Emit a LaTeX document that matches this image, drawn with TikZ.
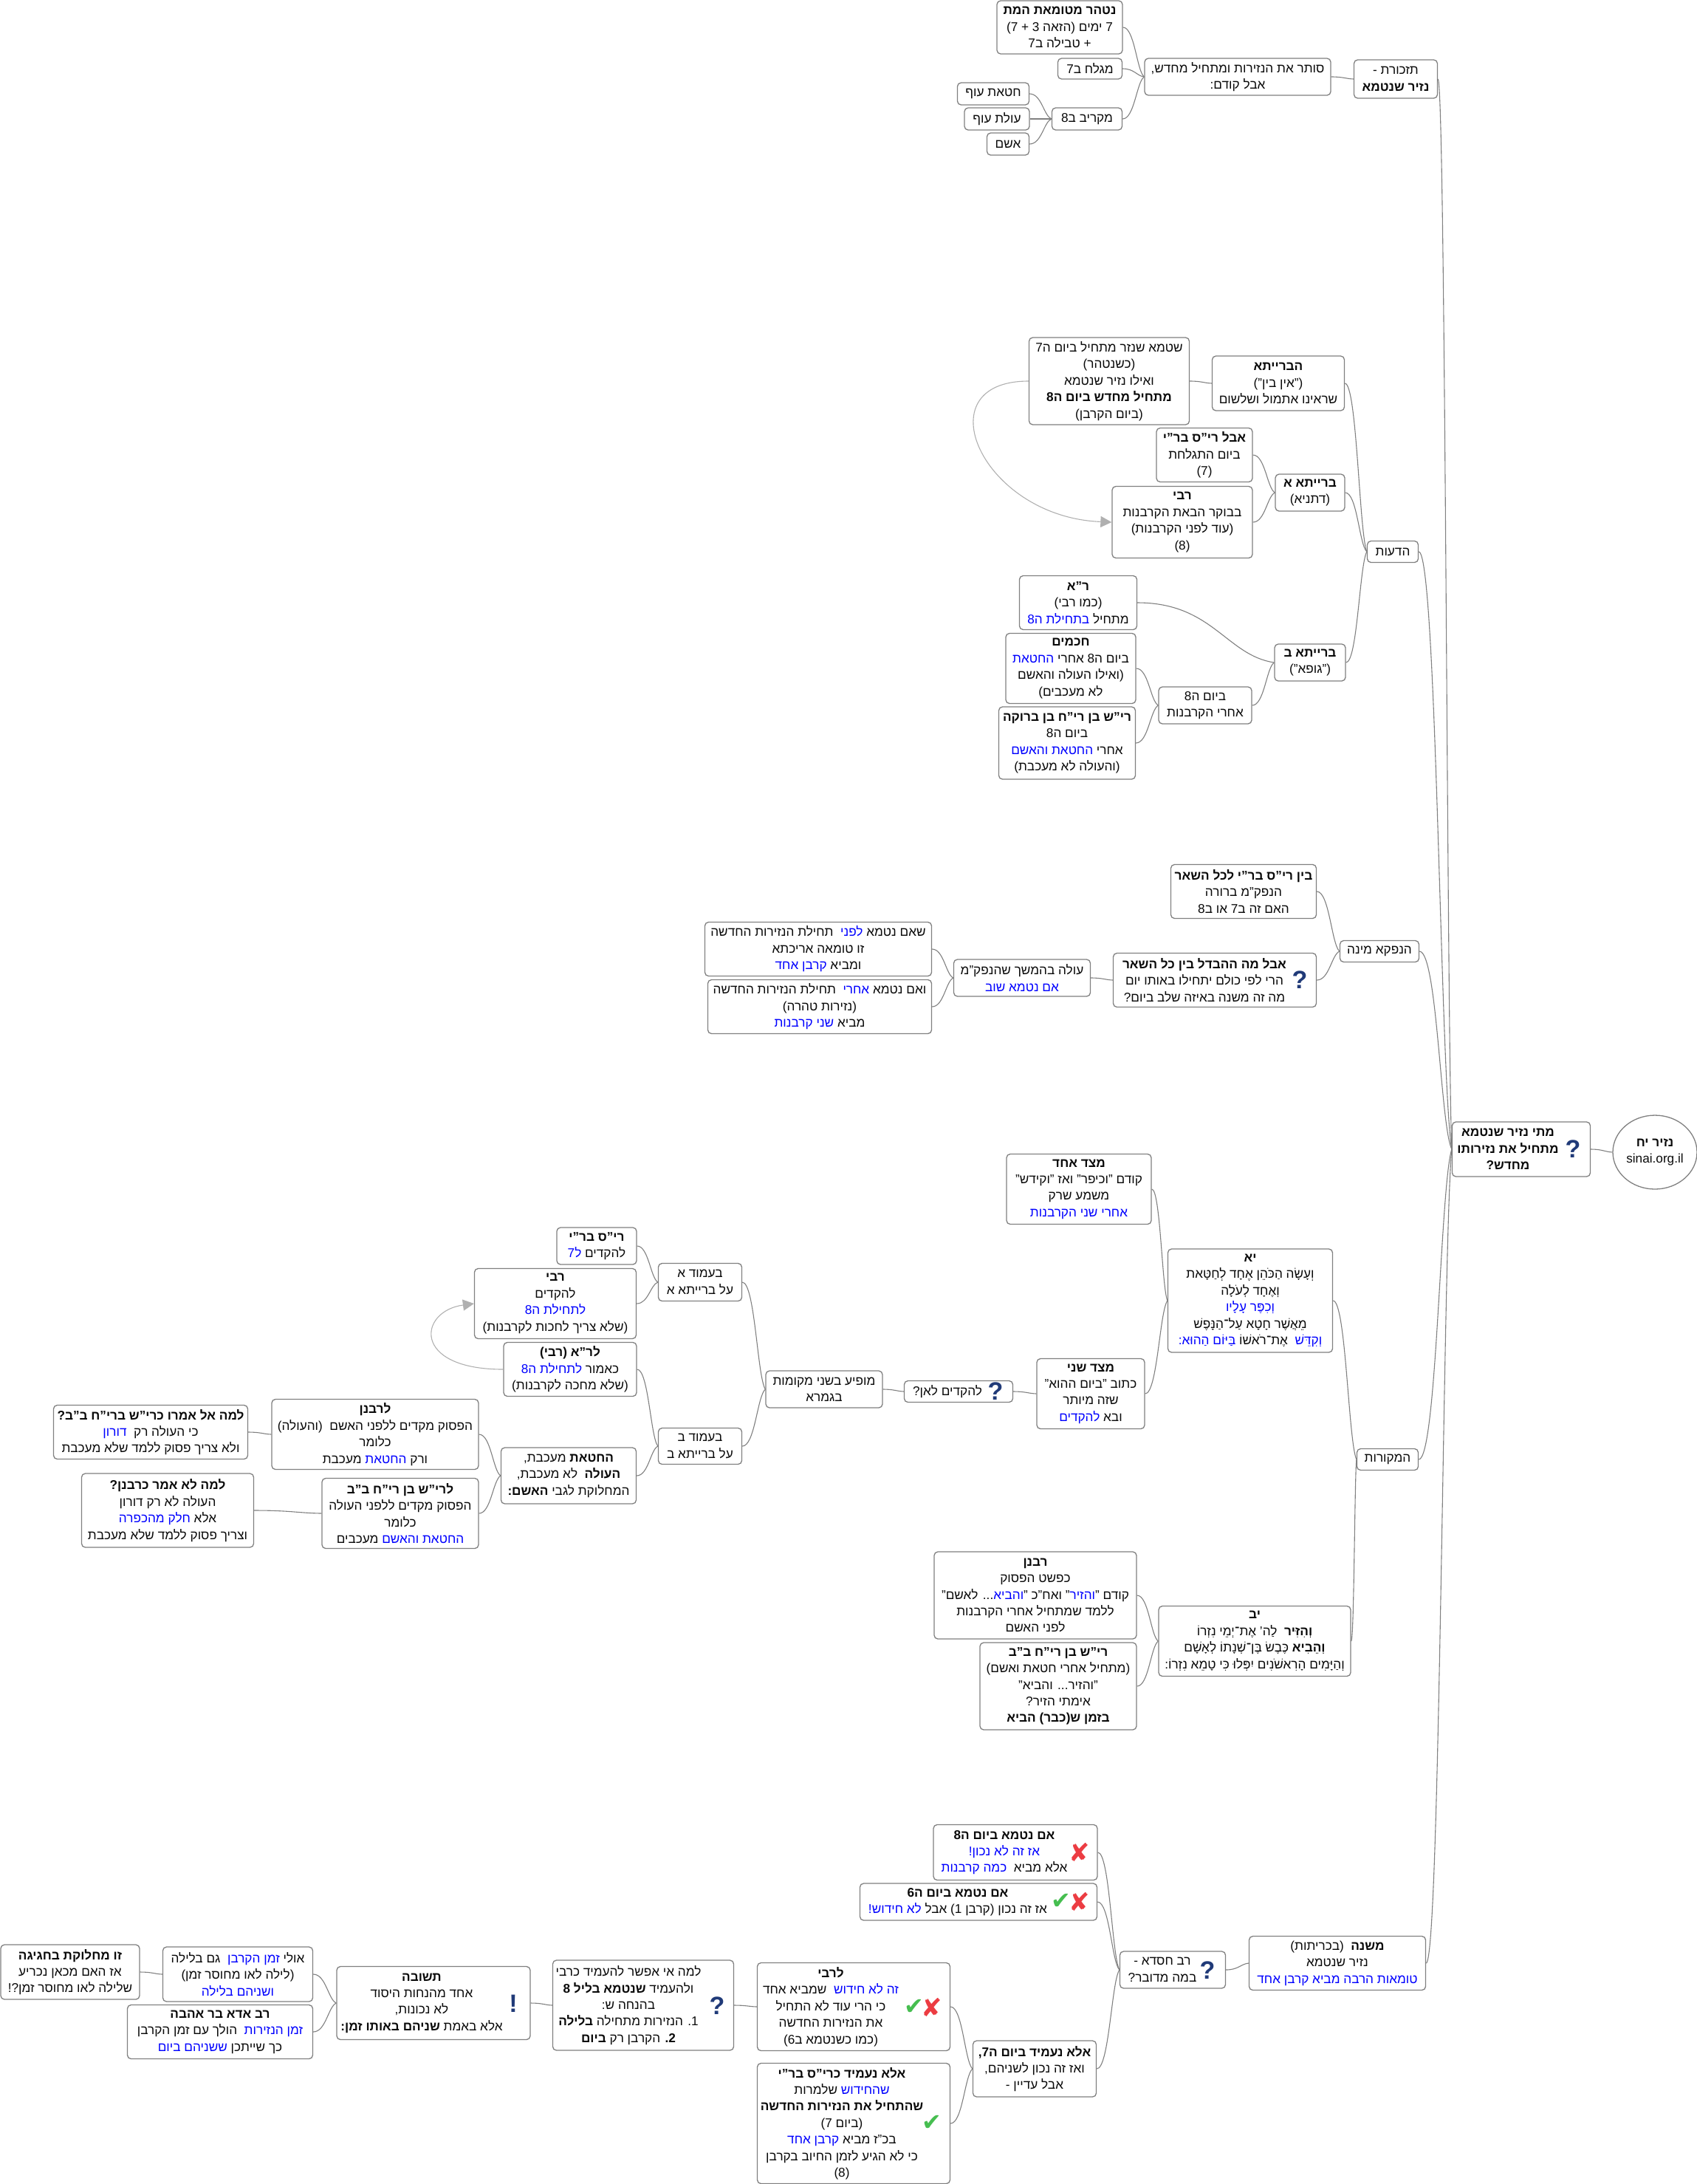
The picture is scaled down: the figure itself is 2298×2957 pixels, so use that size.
\documentclass[tikz,border=0pt]{standalone}
\usepackage{fontspec}
\setmainfont[Script=Hebrew]{Liberation Sans}
\newfontfamily\symfont{DejaVu Sans}
\usepackage{xcolor}
\definecolor{mapBlue}{RGB}{0, 0, 255}
\definecolor{mapEdge}{RGB}{128, 128, 128}
\definecolor{mapText}{RGB}{10, 10, 10}
\definecolor{mapCross}{RGB}{176, 176, 176}
\definecolor{iconNavy}{RGB}{32, 58, 120}
\definecolor{iconRed}{RGB}{236, 60, 66}
\definecolor{iconGreen}{RGB}{70, 190, 80}
\usetikzlibrary{shapes.geometric,arrows.meta,calc}
\TeXXeTstate=1
\newlength{\linePad}
\newcommand{\rl}[1]{\beginR #1\endR\kern\linePad}
\newcommand{\bl}[1]{\beginL\textcolor{mapBlue}{\beginR #1\endR}\endL}

\begin{document}
\begin{tikzpicture}[
    x=0.5pt, y=-0.5pt,
    mapNode/.style={
        rectangle, rounded corners=2.5pt,
        draw=mapEdge, line width=0.65pt,
        fill=white, text=mapText,
        font=\fontsize{8.6}{11.2}\selectfont, align=center,
        inner sep=0pt, execute at begin node={\setlength{\linePad}{0pt}}
    },
    sized/.style 2 args={minimum width=#1*0.5pt, minimum height=#2*0.5pt},
    iconPad/.style={execute at begin node={\setlength{\linePad}{#1}}},
    rootNode/.style={
        ellipse, draw=mapEdge, line width=0.65pt, fill=white, text=mapText,
        font=\fontsize{8.6}{11.2}\selectfont, align=center, inner sep=0pt,
        minimum width=57pt, minimum height=50pt
    },
    iconAsk/.style={font=\fontsize{17}{17}\selectfont\bfseries, text=iconNavy, inner sep=0pt},
    iconNo/.style={font=\symfont\fontsize{17}{17}\selectfont, text=iconRed, inner sep=0pt},
    iconYes/.style={font=\symfont\fontsize{16}{16}\selectfont, text=iconGreen, inner sep=0pt},
    branch/.style={
        draw=mapEdge, line width=0.55pt,
        to path={let \p1=(\tikztostart), \p2=(\tikztotarget), \n1={0.55*(\x2-\x1)}, \n2={0.35*(\x2-\x1)}, \n3={0.12*(\y2-\y1)} in
            .. controls ($(\p1)+(\n1,0)$) and ($(\p2)-(\n2,\n3)$) .. (\p2)}
    },
    crossLink/.style={
        -{Triangle[length=7.5pt,width=7.5pt]}, draw=mapCross, line width=0.55pt
    }
]
    \useasboundingbox (0,0) rectangle (2298,2957);

    % Root
    \node[rootNode] (source) at (2241,1560) {\rl{\textbf{נזיר יח}}\\sinai.org.il};
    \node[mapNode, sized={187}{74}, iconPad=18pt] (mainQ) at (2060,1556) {
        \rl{\textbf{מתי נזיר שנטמא}}\\
        \rl{\textbf{מתחיל את נזירותו}}\\
        \rl{\textbf{מחדש?}}
    };

    % First level
    \node[mapNode, sized={113}{52}] (tizkoret) at (1890,107) {\rl{תזכורת -}\\\rl{\textbf{נזיר שנטמא}}};
    \node[mapNode, sized={69}{29}] (hadeot) at (1886,747) {\rl{הדעות}};
    \node[mapNode, sized={107}{29}] (hanafka) at (1868,1288) {\rl{הנפקא מינה}};
    \node[mapNode, sized={83}{29}] (mekorot) at (1879,1976) {\rl{המקורות}};
    \node[mapNode, sized={239}{73}] (mishna) at (1811,2658) {
        \rl{\textbf{משנה}\ \ (בכריתות)}\\
        \rl{נזיר שנטמא}\\
        \rl{\bl{טומאות הרבה מביא קרבן אחד}}
    };

    % Reminder
    \node[mapNode, sized={252}{50}] (soter) at (1676,104) {\rl{סותר את הנזירות ומתחיל מחדש,}\\\rl{אבל קודם:}};
    \node[mapNode, sized={170}{72}] (nitahar) at (1435,37) {
        \rl{\textbf{נטהר מטומאת המת}}\\
        \rl{7 ימים (הזאה 3 + 7)}\\
        \rl{+ טבילה ב7}
    };
    \node[mapNode, sized={87}{28}] (magalah) at (1476,93) {\rl{מגלח ב7}};
    \node[mapNode, sized={95}{30}] (makriv) at (1472,161) {\rl{מקריב ב8}};
    \node[mapNode, sized={97}{30}] (chatatOf) at (1345,127) {\rl{חטאת עוף}};
    \node[mapNode, sized={88}{30}] (olatOf) at (1350,161) {\rl{עולת עוף}};
    \node[mapNode, sized={57}{30}] (asham) at (1365,195) {\rl{אשם}};

    % Opinions
    \node[mapNode, sized={179}{74}] (beraita) at (1731,519) {
        \rl{\textbf{הברייתא}}\\
        \rl{("אין בין")}\\
        \rl{שראינו אתמול ושלשום}
    };
    \node[mapNode, sized={217}{118}] (shetame) at (1502,516) {
        \rl{שטמא שנזר מתחיל ביום ה7}\\
        \rl{(כשנטהר)}\\
        \rl{ואילו נזיר שנטמא}\\
        \rl{\textbf{מתחיל מחדש ביום ה8}}\\
        \rl{(ביום הקרבן)}
    };
    \node[mapNode, sized={94}{50}] (beraitaA) at (1774,667) {\rl{\textbf{ברייתא א}}\\\rl{(דתניא)}};
    \node[mapNode, sized={130}{73}] (avalRis) at (1631,616) {
        \rl{\textbf{אבל רי"ס בר"י}}\\
        \rl{ביום התגלחת}\\
        \rl{(7)}
    };
    \node[mapNode, sized={190}{97}] (rabiBoker) at (1601,707) {
        \rl{\textbf{רבי}}\\
        \rl{בבוקר הבאת הקרבנות}\\
        \rl{(עוד לפני הקרבנות)}\\
        \rl{(8)}
    };
    \node[mapNode, sized={96}{50}] (beraitaB) at (1774,897) {\rl{\textbf{ברייתא ב}}\\\rl{("גופא")}};
    \node[mapNode, sized={159}{73}] (rabiA) at (1460,816) {
        \rl{\textbf{ר"א}}\\
        \rl{(כמו רבי)}\\
        \rl{מתחיל \bl{בתחילת ה8}}
    };
    \node[mapNode, sized={126}{50}] (yomShmini) at (1632,955) {\rl{ביום ה8}\\\rl{אחרי הקרבנות}};
    \node[mapNode, sized={176}{95}] (chachamim) at (1450,905) {
        \rl{\textbf{חכמים}}\\
        \rl{ביום ה8 אחרי \bl{החטאת}}\\
        \rl{(ואילו העולה והאשם}\\
        \rl{לא מעכבים)}
    };
    \node[mapNode, sized={185}{98}] (rish) at (1445,1006) {
        \rl{\textbf{רי"ש בן רי"ח בן ברוקה}}\\
        \rl{ביום ה8}\\
        \rl{אחרי \bl{החטאת והאשם}}\\
        \rl{(והעולה לא מעכבת)}
    };

    % Practical difference
    \node[mapNode, sized={197}{73}] (bein) at (1684,1207) {
        \rl{\textbf{בין רי"ס בר"י לכל השאר}}\\
        \rl{הנפק"מ ברורה}\\
        \rl{האם זה ב7 או ב8}
    };
    \node[mapNode, sized={275}{73}, iconPad=14pt] (avalMa) at (1645,1327) {
        \rl{\textbf{אבל מה ההבדל בין כל השאר}}\\
        \rl{הרי לפי כולם יתחילו באותו יום}\\
        \rl{מה זה משנה באיזה שלב ביום?}
    };
    \node[mapNode, sized={185}{50}] (olaNafka) at (1384,1324) {\rl{עולה בהמשך שהנפק"מ}\\\rl{\bl{אם נטמא שוב}}};
    \node[mapNode, sized={307}{73}] (imLifnei) at (1108,1285) {
        \rl{שאם נטמא \bl{לפני}\ \ תחילת הנזירות החדשה}\\
        \rl{זו טומאה אריכתא}\\
        \rl{ומביא \bl{קרבן אחד}}
    };
    \node[mapNode, sized={303}{73}] (imAcharei) at (1110,1363) {
        \rl{ואם נטמא \bl{אחרי}\ \ תחילת הנזירות החדשה}\\
        \rl{(נזירות טהרה)}\\
        \rl{מביא \bl{שני קרבנות}}
    };

    % Verses
    \node[mapNode, sized={223}{140}] (verseYa) at (1693,1761) {
        \rl{\textbf{יא}}\\
        \rl{וְעָשָׂה הַכֹּהֵן אֶחָד לְחַטָּאת}\\
        \rl{וְאֶחָד לְעֹלָה}\\
        \rl{\bl{וְכִפֶּר עָלָיו}}\\
        \rl{מֵאֲשֶׁר חָטָא עַל־הַנָּפֶשׁ}\\
        \rl{\bl{וְקִדֵּשׁ}\ \ אֶת־רֹאשׁוֹ \bl{בַּיּוֹם הַהוּא:}}
    };
    \node[mapNode, sized={196}{95}] (mitzadA) at (1461,1610) {
        \rl{\textbf{מצד אחד}}\\
        \rl{קודם "וכיפר" ואז "וקידש"}\\
        \rl{משמע שרק}\\
        \rl{\bl{אחרי שני הקרבנות}}
    };
    \node[mapNode, sized={146}{95}] (mitzadB) at (1477,1887) {
        \rl{\textbf{מצד שני}}\\
        \rl{כתוב "ביום ההוא"}\\
        \rl{שזה מיותר}\\
        \rl{ובא \bl{להקדים}}
    };
    \node[mapNode, sized={147}{29}, iconPad=15pt] (lehakdim) at (1298,1884) {\rl{להקדים לאן?}};
    \node[mapNode, sized={158}{50}] (mofia) at (1116,1881) {\rl{מופיע בשני מקומות}\\\rl{בגמרא}};
    \node[mapNode, sized={113}{51}] (amudA) at (948,1736) {\rl{בעמוד א}\\\rl{על ברייתא א}};
    \node[mapNode, sized={113}{49}] (amudB) at (948,1958) {\rl{בעמוד ב}\\\rl{על ברייתא ב}};
    \node[mapNode, sized={108}{50}] (risBari) at (808,1687) {\rl{\textbf{רי"ס בר"י}}\\\rl{להקדים \bl{ל7}}};
    \node[mapNode, sized={219}{95}] (rabiMakdim) at (752,1765) {
        \rl{\textbf{רבי}}\\
        \rl{להקדים}\\
        \rl{\bl{לתחילת ה8}}\\
        \rl{(שלא צריך לחכות לקרבנות)}
    };
    \node[mapNode, sized={180}{73}] (leRa) at (772,1854) {
        \rl{\textbf{לר"א (רבי)}}\\
        \rl{כאמור \bl{לתחילת ה8}}\\
        \rl{(שלא מחכה לקרבנות)}
    };
    \node[mapNode, sized={183}{76}] (chatatMeakev) at (770,1998) {
        \rl{\textbf{החטאת} מעכבת,}\\
        \rl{\textbf{העולה}\ \ לא מעכבת,}\\
        \rl{המחלוקת לגבי \textbf{האשם:}}
    };
    \node[mapNode, sized={280}{95}] (leRabanan) at (508,1942) {
        \rl{\textbf{לרבנן}}\\
        \rl{הפסוק מקדים ללפני האשם\ \ (והעולה)}\\
        \rl{כלומר}\\
        \rl{ורק \bl{החטאת} מעכבת}
    };
    \node[mapNode, sized={212}{95}] (leResh) at (542,2049) {
        \rl{\textbf{לרי"ש בן רי"ח ב"ב}}\\
        \rl{הפסוק מקדים ללפני העולה}\\
        \rl{כלומר}\\
        \rl{\bl{החטאת והאשם} מעכבים}
    };
    \node[mapNode, sized={263}{73}] (lamaAl) at (204,1939) {
        \rl{\textbf{למה אל אמרו כרי"ש ברי"ח ב"ב?}}\\
        \rl{כי העולה רק\ \ \bl{דורון}}\\
        \rl{ולא צריך פסוק ללמד שלא מעכבת}
    };
    \node[mapNode, sized={233}{100}] (lamaLo) at (227,2045) {
        \rl{\textbf{למה לא אמר כרבנן?}}\\
        \rl{העולה לא רק דורון}\\
        \rl{אלא \bl{חלק מהכפרה}}\\
        \rl{וצריך פסוק ללמד שלא מעכבת}
    };
    \node[mapNode, sized={260}{95}] (verseYb) at (1699,2222) {
        \rl{\textbf{יב}}\\
        \rl{\textbf{וְהִזִּיר}\ \ לַה' אֶת־יְמֵי נִזְרוֹ}\\
        \rl{\textbf{וְהֵבִיא} כֶּבֶשׂ בֶּן־שְׁנָתוֹ לְאָשָׁם}\\
        \rl{וְהַיָּמִים הָרִאשֹׁנִים יִפְּלוּ כִּי טָמֵא נִזְרוֹ:}
    };
    \node[mapNode, sized={274}{118}] (rabanan) at (1402,2160) {
        \rl{\textbf{רבנן}}\\
        \rl{כפשט הפסוק}\\
        \rl{קודם "\bl{והזיר}" ואח"כ "\bl{והביא}... לאשם"}\\
        \rl{ללמד שמתחיל אחרי הקרבנות}\\
        \rl{לפני האשם}
    };
    \node[mapNode, sized={212}{118}] (reshBB) at (1433,2283) {
        \rl{\textbf{רי"ש בן רי"ח ב"ב}}\\
        \rl{(מתחיל אחרי חטאת ואשם)}\\
        \rl{"והזיר... והביא"}\\
        \rl{אימתי הזיר?}\\
        \rl{\textbf{בזמן ש(כבר) הביא}}
    };

    % Rav Chisda
    \node[mapNode, sized={143}{50}, iconPad=14pt] (ravChisda) at (1588,2667) {\rl{רב חסדא -}\\\rl{במה מדובר?}};
    \node[mapNode, sized={222}{75}, iconPad=15pt] (imShmini) at (1375,2508) {
        \rl{\textbf{אם נטמא ביום ה8}}\\
        \rl{\bl{אז זה לא נכון!}}\\
        \rl{אלא מביא\ \ \bl{כמה קרבנות}}
    };
    \node[mapNode, sized={321}{50}, iconPad=28pt] (imShishi) at (1325,2575) {
        \rl{\textbf{אם נטמא ביום ה6}}\\
        \rl{אז זה נכון (קרבן 1) אבל \bl{לא חידוש!}}
    };
    \node[mapNode, sized={167}{76}] (elaSeven) at (1401,2801) {
        \rl{\textbf{אלא נעמיד ביום ה7,}}\\
        \rl{ואז זה נכון לשניהם,}\\
        \rl{אבל עדיין -}
    };
    \node[mapNode, sized={261}{119}, iconPad=31pt] (leRabi) at (1156,2717) {
        \rl{\textbf{לרבי}}\\
        \rl{\bl{זה לא חידוש}\ \ שמביא אחד}\\
        \rl{כי הרי עוד לא התחיל}\\
        \rl{את הנזירות החדשה}\\
        \rl{(כמו כשנטמא ב6)}
    };
    \node[mapNode, sized={261}{163}, iconPad=16pt] (elaRis) at (1156,2875) {
        \rl{\textbf{אלא נעמיד כרי"ס בר"י}}\\
        \rl{\bl{שהחידוש} שלמרות}\\
        \rl{\textbf{שהתחיל את הנזירות החדשה}}\\
        \rl{(ביום 7)}\\
        \rl{בכ"ז מביא \bl{קרבן אחד}}\\
        \rl{כי לא הגיע לזמן החיוב בקרבן}\\
        \rl{(8)}
    };
    \node[mapNode, sized={245}{122}, iconPad=20pt] (lamaEi) at (871,2715) {
        \rl{למה אי אפשר להעמיד כרבי}\\
        \rl{ולהעמיד \textbf{שנטמא בליל 8}}\\
        \rl{בהנחה ש:}\\
        \rl{1. הנזירות מתחילה \textbf{בלילה}}\\
        \rl{\textbf{2.} הקרבן רק \textbf{ביום}}
    };
    \node[mapNode, sized={262}{99}, iconPad=16pt] (teshuva) at (587,2712) {
        \rl{\textbf{תשובה}}\\
        \rl{אחד מהנחות היסוד}\\
        \rl{לא נכונות,}\\
        \rl{אלא באמת \textbf{שניהם באותו זמן:}}
    };
    \node[mapNode, sized={203}{74}] (uli) at (322,2673) {
        \rl{אולי \bl{זמן הקרבן}\ \ גם בלילה}\\
        \rl{(לילה לאו מחוסר זמן)}\\
        \rl{\bl{ושניהם בלילה}}
    };
    \node[mapNode, sized={251}{73}] (ravAda) at (298,2751) {
        \rl{\textbf{רב אדא בר אהבה}}\\
        \rl{\bl{זמן הנזירות}\ \ הולך עם זמן הקרבן}\\
        \rl{כך שייתכן \bl{ששניהם ביום}}
    };
    \node[mapNode, sized={188}{74}] (chagiga) at (95,2670) {
        \rl{\textbf{זו מחלוקת בחגיגה}}\\
        \rl{אז האם מכאן נכריע}\\
        \rl{שלילה לאו מחוסר זמן?!}
    };

    % Icons
    \node[iconAsk] (askMain) at (2130,1556) {?};
    \node[iconAsk] (askAvalMa) at (1760,1327) {?};
    \node[iconAsk] (askHakdim) at (1348,1884) {?};
    \node[iconAsk] (askChisda) at (1635,2668) {?};
    \node[iconAsk] (askLama) at (971,2716) {?};
    \node[iconAsk] (markTeshuva) at (695,2713) {!};
    \node[iconNo] (noShmini) at (1462,2508) {✘};
    \node[iconNo] (noShishi) at (1462,2575) {✘};
    \node[iconYes] (yesShishi) at (1437,2574) {✔};
    \node[iconNo] (noRabi) at (1262,2718) {✘};
    \node[iconYes] (yesRabi) at (1238,2717) {✔};
    \node[iconYes] (yesRis) at (1262,2874) {✔};

    % Branches
    \draw[branch] (mainQ.east) to (source.west);
    \draw[branch] (tizkoret.east) to (mainQ.west);
    \draw[branch] (hadeot.east) to (mainQ.west);
    \draw[branch] (hanafka.east) to (mainQ.west);
    \draw[branch] (mekorot.east) to (mainQ.west);
    \draw[branch] (mishna.east) to (mainQ.west);

    \draw[branch] (soter.east) to (tizkoret.west);
    \draw[branch] (nitahar.east) to (soter.west);
    \draw[branch] (magalah.east) to (soter.west);
    \draw[branch] (makriv.east) to (soter.west);
    \draw[branch] (chatatOf.east) to (makriv.west);
    \draw[branch] (olatOf.east) to (makriv.west);
    \draw[branch] (asham.east) to (makriv.west);

    \draw[branch] (beraita.east) to (hadeot.west);
    \draw[branch] (beraitaA.east) to (hadeot.west);
    \draw[branch] (beraitaB.east) to (hadeot.west);
    \draw[branch] (shetame.east) to (beraita.west);
    \draw[branch] (avalRis.east) to (beraitaA.west);
    \draw[branch] (rabiBoker.east) to (beraitaA.west);
    \draw[branch] (rabiA.east) to (beraitaB.west);
    \draw[branch] (yomShmini.east) to (beraitaB.west);
    \draw[branch] (chachamim.east) to (yomShmini.west);
    \draw[branch] (rish.east) to (yomShmini.west);

    \draw[branch] (bein.east) to (hanafka.west);
    \draw[branch] (avalMa.east) to (hanafka.west);
    \draw[branch] (olaNafka.east) to (avalMa.west);
    \draw[branch] (imLifnei.east) to (olaNafka.west);
    \draw[branch] (imAcharei.east) to (olaNafka.west);

    \draw[branch] (verseYa.east) to (mekorot.west);
    \draw[branch] (verseYb.east) to (mekorot.west);
    \draw[branch] (mitzadA.east) to (verseYa.west);
    \draw[branch] (mitzadB.east) to (verseYa.west);
    \draw[branch] (lehakdim.east) to (mitzadB.west);
    \draw[branch] (mofia.east) to (lehakdim.west);
    \draw[branch] (amudA.east) to (mofia.west);
    \draw[branch] (amudB.east) to (mofia.west);
    \draw[branch] (risBari.east) to (amudA.west);
    \draw[branch] (rabiMakdim.east) to (amudA.west);
    \draw[branch] (leRa.east) to (amudB.west);
    \draw[branch] (chatatMeakev.east) to (amudB.west);
    \draw[branch] (leRabanan.east) to (chatatMeakev.west);
    \draw[branch] (leResh.east) to (chatatMeakev.west);
    \draw[branch] (lamaAl.east) to (leRabanan.west);
    \draw[branch] (lamaLo.east) to (leResh.west);
    \draw[branch] (rabanan.east) to (verseYb.west);
    \draw[branch] (reshBB.east) to (verseYb.west);

    \draw[branch] (ravChisda.east) to (mishna.west);
    \draw[branch] (imShmini.east) to (ravChisda.west);
    \draw[branch] (imShishi.east) to (ravChisda.west);
    \draw[branch] (elaSeven.east) to (ravChisda.west);
    \draw[branch] (leRabi.east) to (elaSeven.west);
    \draw[branch] (elaRis.east) to (elaSeven.west);
    \draw[branch] (lamaEi.east) to (leRabi.west);
    \draw[branch] (teshuva.east) to (lamaEi.west);
    \draw[branch] (uli.east) to (teshuva.west);
    \draw[branch] (ravAda.east) to (teshuva.west);
    \draw[branch] (chagiga.east) to (uli.west);

    % Cross links
    \draw[crossLink] (shetame.west) .. controls +(-144,0) and +(-176,-7) .. (rabiBoker.west);
    \draw[crossLink] (leRa.west) .. controls +(-125,0) and +(-75,10) .. (rabiMakdim.west);

\end{tikzpicture}
\end{document}
